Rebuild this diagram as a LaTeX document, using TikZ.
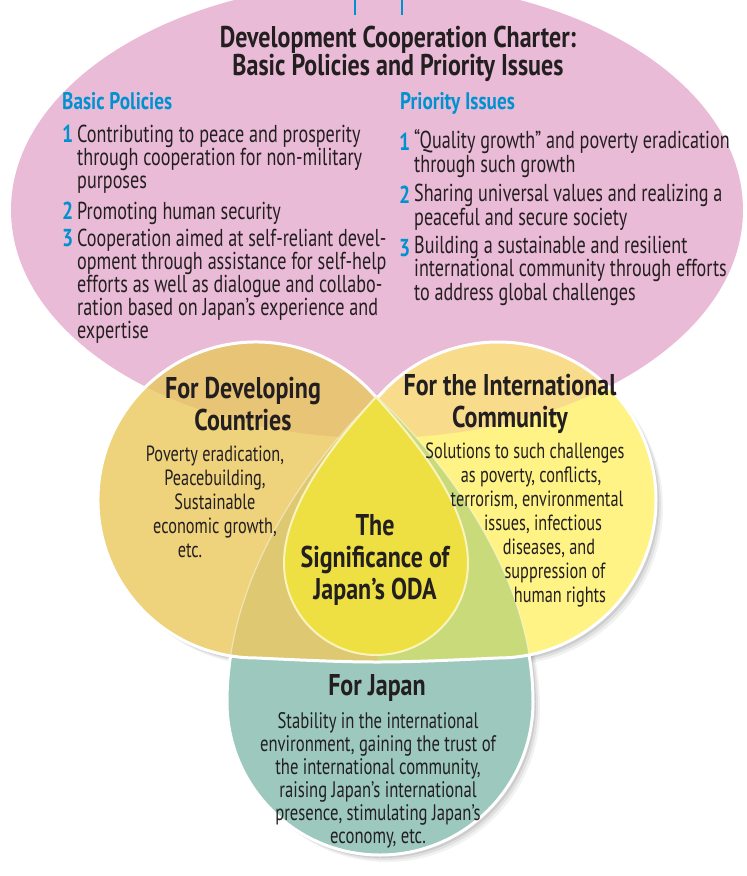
\documentclass[tikz,border=0pt]{standalone}
\usepackage{fontspec}
\setmainfont{PT Sans}[FakeStretch=0.74, BoldFeatures={FakeStretch=0.8}]
\usetikzlibrary{positioning}

\definecolor{ink}{HTML}{231F20}
\definecolor{odablue}{HTML}{0092D0}
\definecolor{charterpink}{HTML}{EABBD7}
\definecolor{devtan}{HTML}{EED27C}
\definecolor{devpink}{HTML}{E8C477}
\definecolor{intlyellow}{HTML}{FFF386}
\definecolor{intlpink}{HTML}{F8DC8C}
\definecolor{japanteal}{HTML}{9CC8BD}
\definecolor{devteal}{HTML}{DEC872}
\definecolor{intlteal}{HTML}{C9DA7A}
\definecolor{odacore}{HTML}{EEE043}

% outlines of the charter oval, the two upper drops, the Japan drop and the core (pixel units, y downwards)
\newcommand{\charterpath}{(377,210) ellipse [x radius=366, y radius=228]}
\newcommand{\pairpath}{(377,398.4) arc[start angle=320, end angle=90, radius=158]
  .. controls (300,660) and (340,662) .. (377,662)
  .. controls (414,662) and (454,660) .. (498,658)
  arc[start angle=90, end angle=-140, radius=158] -- cycle}
\newcommand{\japanpath}{(377,397) .. controls (331,440) and (227,560) .. (227,702)
  arc[start angle=180, end angle=0, radius=153]
  .. controls (533,560) and (423,440) .. (377,397) -- cycle}
\newcommand{\corepath}{(376,397) .. controls (346,430) and (284,500) .. (284,563)
  arc[start angle=180, end angle=0, radius=92]
  .. controls (468,500) and (406,430) .. (376,397) -- cycle}

\begin{document}
\begin{tikzpicture}[x=1pt, y=-1pt,
  outline/.style={draw=white, line width=3pt},
  head/.style={font=\fontsize{30}{32}\selectfont\bfseries, text=ink, align=center, inner sep=0pt},
  sub/.style={font=\fontsize{24}{24}\selectfont\bfseries, text=odablue, anchor=base west, inner sep=0pt},
  num/.style={font=\fontsize{24.5}{23}\selectfont\bfseries, text=odablue, anchor=base west, inner sep=0pt},
  item/.style={font=\fontsize{24.5}{23}\selectfont, text=ink, align=left, anchor=base west, inner sep=0pt},
  body/.style={font=\fontsize{22}{24}\selectfont, text=ink, align=center, inner sep=0pt}]
  \useasboundingbox (0,0) rectangle (747,876);
  \clip (0,0) rectangle (747,876);

  % charter oval
  \fill[charterpink] \charterpath;
  \coordinate (linka) at (355,0);
  \coordinate (linkb) at (402,0);
  \draw[odablue, line width=2pt] (linka) -- ++(0,15);
  \draw[odablue, line width=2pt] (linkb) -- ++(0,15);

  % soft shadows
  \foreach \s/\o in {7/0.05, 5/0.07, 3/0.09} {
    \fill[black, opacity=\o, xshift=\s pt, yshift=-\s pt] \pairpath;
    \fill[black, opacity=\o, xshift=\s pt, yshift=-\s pt] \japanpath;
  }

  % Japan drop
  \filldraw[fill=japanteal, outline] \japanpath;

  % developing countries (left half) and international community (right half)
  \begin{scope}
    \clip (0,0) rectangle (377,876);
    \fill[devtan] \pairpath;
    \clip \charterpath;
    \fill[devpink] \pairpath;
  \end{scope}
  \begin{scope}
    \clip (377,0) rectangle (747,876);
    \fill[intlyellow] \pairpath;
    \clip \charterpath;
    \fill[intlpink] \pairpath;
  \end{scope}
  \begin{scope}
    \clip \japanpath;
    \clip (0,0) rectangle (377,876);
    \fill[devteal] \pairpath;
  \end{scope}
  \begin{scope}
    \clip \japanpath;
    \clip (377,0) rectangle (747,876);
    \fill[intlteal] \pairpath;
  \end{scope}
  \begin{scope}
    \clip \pairpath;
    \draw[white, opacity=0.45, line width=1.2pt] \japanpath;
  \end{scope}
  \draw[outline] \pairpath;

  % core
  \filldraw[fill=odacore, draw=white!65!odacore, line width=2pt] \corepath;

  % charter text
  \node[head, font=\fontsize{30}{28}\selectfont\bfseries] (title) at (398,54) {Development Cooperation Charter:\\Basic Policies and Priority Issues};
  \node[sub] (bp) at (62,109) {Basic Policies};
  \node[sub] (pi) at (400,109) {Priority Issues};

  \node[num] (bpn1) at (62,142) {1};
  \node[item] (bp1) at (77,188) {Contributing to peace and prosperity\\through cooperation for non-military\\purposes};
  \node[num] (bpn2) at (62,219) {2};
  \node[item] (bp2) at (77,219) {Promoting human security};
  \node[num] (bpn3) at (62,246) {3};
  \node[item] (bp3) at (77,338) {Cooperation aimed at self-reliant devel-\\opment through assistance for self-help\\efforts as well as dialogue and collabo-\\ration based on Japan’s experience and\\expertise};

  \node[num] (pin1) at (399,150) {1};
  \node[item, font=\fontsize{24.5}{22}\selectfont] (pi1) at (414,172) {“Quality growth” and poverty eradication\\through such growth};
  \node[num] (pin2) at (399,203) {2};
  \node[item, font=\fontsize{24.5}{22}\selectfont] (pi2) at (414,225) {Sharing universal values and realizing a\\peaceful and secure society};
  \node[num] (pin3) at (399,256) {3};
  \node[item, font=\fontsize{24.5}{22}\selectfont] (pi3) at (414,300) {Building a sustainable and resilient\\international community through efforts\\to address global challenges};

  % drop texts
  \node[head] (dev) at (243,404) {For Developing\\Countries};
  \node[body] (devtxt) at (215,502) {Poverty eradication,\\Peacebuilding,\hspace*{10pt}\\Sustainable\hspace*{22pt}\\economic growth,\hspace*{38pt}\\etc.\hspace*{50pt}};
  \node[head] (intl) at (510,404) {For the International\\Community};
  \node[body] (intltxt) at (543,525) {\hspace*{-36pt}Solutions to such challenges\\\hspace*{-24pt}as poverty, conflicts,\\\hspace*{-12pt}terrorism, environmental\\issues, infectious\\\hspace*{12pt}diseases, and\\\hspace*{24pt}suppression of\\\hspace*{34pt}human rights};
  \node[head] (core) at (375,560) {The\\Significance of\\Japan’s ODA};
  \node[head] (japan) at (377,688) {For Japan};
  \node[body, font=\fontsize{22.5}{23}\selectfont] (japantxt) at (378,780) {Stability in the international\\environment, gaining the trust of\\the international community,\\raising Japan’s international\\presence, stimulating Japan’s\\economy, etc.};
\end{tikzpicture}
\end{document}
